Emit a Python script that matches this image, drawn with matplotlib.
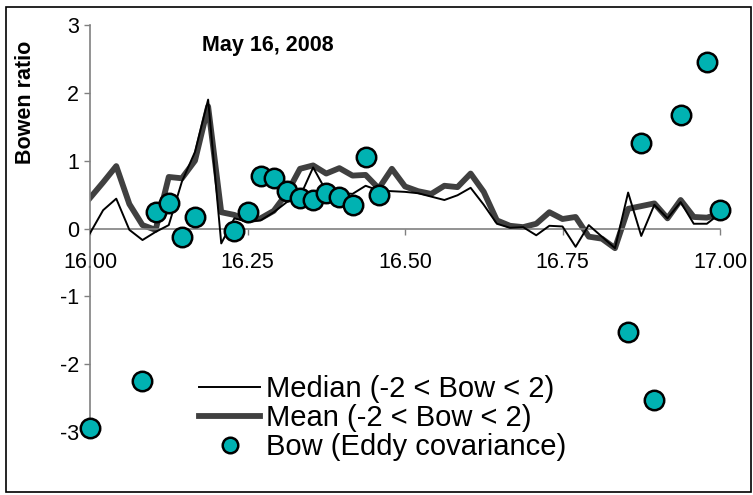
import numpy as np
import matplotlib.pyplot as plt
from matplotlib.patches import Rectangle

plt.rcParams['font.family'] = ['Liberation Sans', 'DejaVu Sans']
plt.rcParams['axes.unicode_minus'] = False

# half-hourly time axis (day of May)
t = 16 + np.arange(49) / 48.0

median = [-0.07, 0.27, 0.44, -0.02, -0.17, -0.05, 0.05, 0.69, 1.13, 1.9,
          -0.22, 0.15, 0.1, 0.12, 0.24, 0.39, 0.47, 0.9, 0.55, 0.53,
          0.51, 0.63, 0.56, 0.55, 0.54, 0.52, 0.47, 0.42, 0.49, 0.6,
          0.35, 0.07, 0.01, 0.02, -0.1, 0.04, 0.03, -0.27, 0.05, -0.12,
          -0.29, 0.53, -0.11, 0.35, 0.15, 0.39, 0.07, 0.07, 0.22]

mean = [0.45, 0.68, 0.92, 0.36, 0.05, -0.02, 0.76, 0.74, 1.0, 1.8,
        0.24, 0.2, 0.12, 0.15, 0.26, 0.52, 0.88, 0.93, 0.81, 0.89,
        0.78, 0.79, 0.59, 0.88, 0.62, 0.55, 0.51, 0.63, 0.61, 0.81,
        0.54, 0.12, 0.04, 0.02, 0.07, 0.24, 0.14, 0.17, -0.12, -0.15,
        -0.29, 0.29, 0.33, 0.37, 0.15, 0.42, 0.17, 0.16, 0.22]

bow_t = [16.0, 16.083, 16.104, 16.125, 16.146, 16.167, 16.229, 16.25,
         16.271, 16.292, 16.313, 16.333, 16.354, 16.375, 16.396, 16.417,
         16.438, 16.458, 16.854, 16.875, 16.896, 16.938, 16.979, 17.0]
bow = [-2.94, -2.25, 0.25, 0.37, -0.12, 0.17, -0.03, 0.24,
       0.77, 0.75, 0.56, 0.45, 0.42, 0.53, 0.46, 0.34,
       1.05, 0.49, -1.53, 1.26, -2.53, 1.67, 2.45, 0.27]

W, H = 753, 495
fig = plt.figure(figsize=(W / 100, H / 100), dpi=100)
ax = fig.add_axes([90 / W, 63 / H, 630 / W, 407 / H])

ax.plot(t, mean, color='#404040', lw=4.2, label='Mean (-2 < Bow < 2)', zorder=2)
ax.plot(t, median, color='black', lw=1.4, label='Median (-2 < Bow < 2)', zorder=3)
ax.plot(bow_t, bow, 'o', ms=14, mfc='#00B2B2', mec='black', mew=1.8, ls='none',
        label='Bow (Eddy covariance)', clip_on=False, zorder=4)

ax.set_xlim(16, 17)
ax.set_ylim(-3, 3)
ax.set_xticks([16, 16.25, 16.5, 16.75, 17])
ax.set_xticklabels(['16.00', '16.25', '16.50', '16.75', '17.00'])
ax.set_yticks([-3, -2, -1, 0, 1, 2, 3])

for s in ['top', 'right']:
    ax.spines[s].set_visible(False)
ax.spines['bottom'].set_position(('data', 0))
for s in ['bottom', 'left']:
    ax.spines[s].set_color('#808080')
    ax.spines[s].set_linewidth(1.2)
ax.tick_params(axis='x', direction='out', length=4, width=1, color='#808080',
               labelsize=15.5, pad=13)
ax.tick_params(axis='y', direction='out', length=4, width=1, color='#808080',
               labelsize=15.5, pad=4)

fig.text(202 / W, 1 - 46 / H, 'May 16, 2008', fontsize=15.5, fontweight='bold',
         ha='left', va='center')
fig.text(26 / W, 1 - 102 / H, 'Bowen ratio', fontsize=15.5, fontweight='bold',
         rotation=90, ha='center', va='center')

h, l = ax.get_legend_handles_labels()
order = [1, 0, 2]
ax.legend([h[i] for i in order], [l[i] for i in order], loc='upper left',
          bbox_to_anchor=(199 / W, 1 - 375 / H), bbox_transform=fig.transFigure,
          frameon=False, fontsize=21, handlelength=2.1, handletextpad=0.2,
          labelspacing=0.03, borderpad=0, borderaxespad=0, markerscale=0.8)

fig.patches.append(Rectangle((6 / W, 3 / H), 745 / W, 485 / H, transform=fig.transFigure,
                             fill=False, edgecolor='black', lw=1.2))

fig.savefig('out.png', dpi=100)
